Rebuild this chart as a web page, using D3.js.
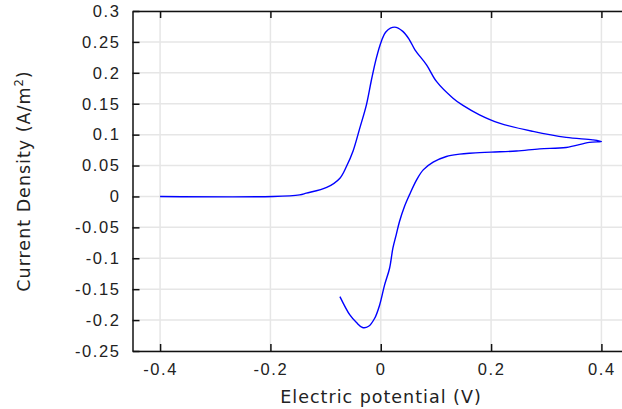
<!DOCTYPE html>
<html>
<head>
<meta charset="utf-8">
<script src="https://cdn.jsdelivr.net/npm/d3@7"></script>
<style>
  body { margin: 0; background: #fff; }
  svg { display: block; font-family: "DejaVu Sans", sans-serif; }
  .tick text { fill: #222; font-size: 16.5px; letter-spacing: 1.6px; }
  .grid line { stroke: #e6e6e6; stroke-width: 1.5; }
  .axis path, .axis line { stroke: #111; }
</style>
</head>
<body>
<svg id="chart"></svg>
<script>
// potential sweep (V) and current density (A/m^2)
const potential = [-0.40, -0.195, -0.147, -0.135, -0.098, -0.074, -0.062, -0.050, -0.038,
  -0.026, -0.017, -0.008, 0.001, 0.010, 0.025, 0.040, 0.052, 0.062, 0.083, 0.101, 0.131, 0.149,
  0.179, 0.215, 0.276, 0.336, 0.384, 0.400,
  0.378, 0.336, 0.288, 0.246, 0.200, 0.161, 0.143, 0.119, 0.095, 0.077, 0.065, 0.052, 0.043,
  0.034, 0.028, 0.022, 0.016, 0.007, -0.002, -0.011, -0.022, -0.033, -0.044, -0.056, -0.074];
const currentDensity = [0, 0, 0.0026, 0.0053, 0.0146, 0.0296, 0.0488, 0.0740, 0.1105,
  0.1482, 0.1880, 0.2238, 0.2508, 0.2670, 0.2739, 0.2670, 0.2534, 0.2373, 0.2130, 0.1861, 0.1590, 0.1472,
  0.1321, 0.1186, 0.1052, 0.0955, 0.0916, 0.0890,
  0.0874, 0.0793, 0.0770, 0.0735, 0.0717, 0.0700, 0.0685, 0.0647, 0.0555, 0.0430, 0.0269, 0.0026, -0.0162,
  -0.0405, -0.0621, -0.0837, -0.1161, -0.1431, -0.1755, -0.1970, -0.2100, -0.2120, -0.2040, -0.1917, -0.1620];
const xTicks = [-0.4, -0.2, 0, 0.2, 0.4];
const yTicks = [-0.25, -0.2, -0.15, -0.1, -0.05, 0, 0.05, 0.1, 0.15, 0.2, 0.25, 0.3];

const width = 622, height = 409;
const mLeft = 132.5, mRight = 629, mTop = 11, mBottom = 351;

const svg = d3.select('#chart').attr('width', width).attr('height', height);

const x = d3.scaleLinear().domain([-0.45, 0.45]).range([mLeft, mRight]);
const y = d3.scaleLinear().domain([-0.25, 0.3]).range([mBottom, mTop]);
const fmt = d => String(+d.toFixed(2));

// grid
const grid = svg.append('g').attr('class', 'grid');
grid.selectAll('line.v').data(xTicks).enter().append('line').attr('class', 'v')
  .attr('x1', d => x(d)).attr('x2', d => x(d)).attr('y1', mTop).attr('y2', mBottom);
grid.selectAll('line.h').data(yTicks).enter().append('line').attr('class', 'h')
  .attr('x1', mLeft).attr('x2', mRight).attr('y1', d => y(d)).attr('y2', d => y(d));

// curve
const pts = potential.map((v, i) => [v, currentDensity[i]]);
svg.append('path')
  .datum(pts)
  .attr('fill', 'none')
  .attr('stroke', '#0000ff')
  .attr('stroke-width', 1.4)
  .attr('d', d3.line().curve(d3.curveCatmullRom.alpha(0.5)).x(d => x(d[0])).y(d => y(d[1])));

// axes, ticks pointing inward
svg.append('g').attr('class', 'axis')
  .attr('transform', `translate(0,${mBottom})`)
  .call(d3.axisBottom(x).tickValues(xTicks).tickFormat(fmt).tickSizeInner(-7).tickSizeOuter(0).tickPadding(12));
svg.append('g').attr('class', 'axis')
  .attr('transform', `translate(0,${mTop})`)
  .call(d3.axisTop(x).tickValues(xTicks).tickFormat('').tickSizeInner(-7).tickSizeOuter(0));
svg.append('g').attr('class', 'axis')
  .attr('transform', `translate(${mLeft},0)`)
  .call(d3.axisLeft(y).tickValues(yTicks).tickFormat(fmt).tickSizeInner(-7).tickSizeOuter(0).tickPadding(12));
svg.append('g').attr('class', 'axis')
  .attr('transform', `translate(${mRight},0)`)
  .call(d3.axisRight(y).tickValues(yTicks).tickFormat('').tickSizeInner(-7).tickSizeOuter(0));
svg.selectAll('.axis path').attr('stroke-width', 1.5);
svg.selectAll('.axis .tick line').attr('stroke-width', 1.5);

// titles
svg.append('text')
  .attr('x', 381).attr('y', 403)
  .attr('text-anchor', 'middle')
  .attr('fill', '#222').attr('font-size', 17.5).attr('letter-spacing', 1)
  .text('Electric potential (V)');

const yt = svg.append('text')
  .attr('transform', `translate(30,181) rotate(-90)`)
  .attr('text-anchor', 'middle')
  .attr('fill', '#222').attr('font-size', 17.5).attr('letter-spacing', 1);
yt.append('tspan').text('Current Density (A/m');
yt.append('tspan').attr('font-size', 11.5).attr('dy', -7).text('2');
yt.append('tspan').attr('dy', 7).text(')');
</script>
</body>
</html>
